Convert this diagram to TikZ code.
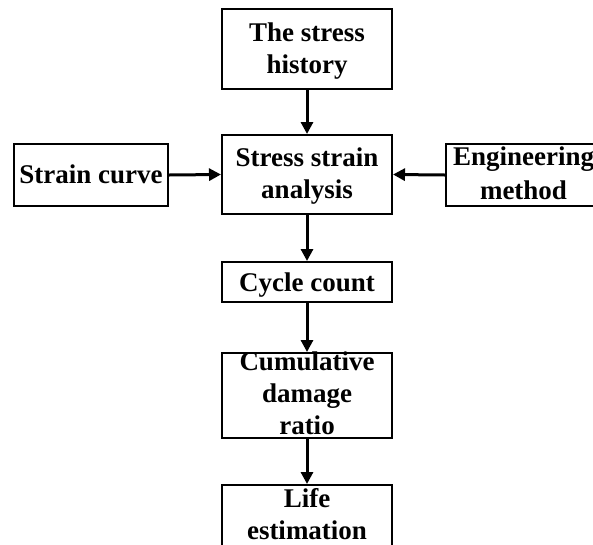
\documentclass[tikz,border=0pt]{standalone}
\usepackage{fontspec}
\setmainfont{Liberation Serif}
\usetikzlibrary{arrows.meta}
\begin{document}
\begin{tikzpicture}[x=1pt,y=-1pt,
  box/.style={draw, line width=2pt, inner sep=0pt},
  txt/.style={align=center, font=\fontsize{27}{32}\selectfont\bfseries, inner sep=0pt},
  arr/.style={line width=3pt, -{Triangle[length=12pt,width=12pt]}}]
\clip (0,0) rectangle (593,544);
\fill[white] (0,0) rectangle (593,544);
% boxes
\node[box, minimum width=170pt, minimum height=80pt] (hist) at (307,49) {};
\node[box, minimum width=170pt, minimum height=79pt] (ana) at (307,174.5) {};
\node[box, minimum width=154pt, minimum height=62pt] (curve) at (91,175) {};
\node[box, minimum width=155pt, minimum height=62pt] (eng) at (523.5,175) {};
\node[box, minimum width=170pt, minimum height=40pt] (cyc) at (307,282) {};
\node[box, minimum width=170pt, minimum height=85pt] (cum) at (307,395.5) {};
\node[box, minimum width=170pt, minimum height=80pt] (life) at (307,525) {};
% texts
\node[txt] (histT) at (307,51) {The stress\\history};
\node[txt] (anaT) at (307,176) {Stress strain\\analysis};
\node[txt, anchor=base] (curveT) at (91,183) {Strain curve};
\node[txt, font=\fontsize{27}{34}\selectfont\bfseries] (engT) at (523.5,173) {Engineering\\method};
\node[txt, anchor=base] (cycT) at (307,291) {Cycle count};
\node[txt] (cumT) at (307,393) {Cumulative\\damage\\ratio};
\node[txt] (lifeT) at (307,514) {Life\\estimation};
% arrows
\draw[arr] (hist.south) -- (ana.north);
\draw[arr] (curve.east) -- (ana.west);
\draw[arr] (eng.west) -- (ana.east);
\draw[arr] (ana.south) -- (cyc.north);
\draw[arr] (cyc.south) -- (cum.north);
\draw[arr] (cum.south) -- (life.north);
\end{tikzpicture}
\end{document}
